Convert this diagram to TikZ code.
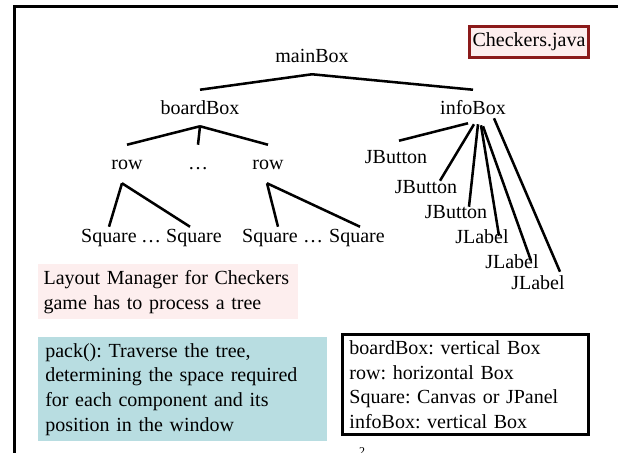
\documentclass[tikz,border=0pt]{standalone}
\usepackage{fontspec}
\setmainfont{Liberation Serif}
\usetikzlibrary{calc}
\definecolor{maroonred}{HTML}{8b1a1a}
\definecolor{palepink}{HTML}{fdeeee}
\definecolor{paleteal}{HTML}{b8dde1}

\begin{document}
\begin{tikzpicture}[x=0.75pt,y=-0.75pt,line width=1.9pt,
  every node/.style={font=\fontsize{15}{18.5}\selectfont\frenchspacing},
  branch/.style={anchor=base,inner xsep=0pt,inner ysep=7.5pt,text height=10.5pt,text depth=0pt},
  leaf/.style={anchor=base,inner sep=0pt,text height=10.5pt,text depth=0pt},
  notebox/.style={anchor=north west,align=left,inner xsep=5.25pt,inner ysep=4.5pt}]
\useasboundingbox (0,0) rectangle (618,453);
\draw[line width=2.25pt] (14,460) -- (14,7) -- (625,7);

\node[draw=maroonred,fill=palepink,inner xsep=2.5pt,inner ysep=5pt] (checkers) at (529,42) {Checkers.java};

\node[branch] (mainBox) at (312,63) {mainBox};
\node[branch] (boardBox) at (200,115) {boardBox};
\node[branch] (infoBox) at (473,115) {infoBox};
\node[branch] (rowA) at (127,170) {row};
\node[branch] (rowDots) at (198,170) {…};
\node[branch] (rowB) at (268,170) {row};

\node[leaf] (sqA) at (109,242) {Square};
\node[leaf] (sqDotsA) at (151,242) {…};
\node[leaf] (sqB) at (194,242) {Square};
\node[leaf] (sqC) at (270,242) {Square};
\node[leaf] (sqDotsB) at (313,242) {…};
\node[leaf] (sqD) at (357,242) {Square};

\node[leaf] (jbA) at (396,163) {JButton};
\node[leaf] (jbB) at (426,193) {JButton};
\node[leaf] (jbC) at (456,218) {JButton};
\node[leaf] (lbA) at (482,243) {JLabel};
\node[leaf] (lbB) at (512,268) {JLabel};
\node[leaf] (lbC) at (538,289) {JLabel};

\draw (mainBox.south) -- (boardBox.north);
\draw (mainBox.south) -- (infoBox.north);
\draw (boardBox.south) -- (rowA.north);
\draw (boardBox.south) -- (rowDots.north);
\draw (boardBox.south) -- (rowB.north);
\draw ($(rowA.south)+(-5,2)$) -- (sqA.north);
\draw ($(rowA.south)+(-5,2)$) -- ($(sqB.north)+(-4,0)$);
\draw ($(rowB.south)+(-1,2)$) -- ($(sqC.north)+(8,0)$);
\draw ($(rowB.south)+(-1,2)$) -- ($(sqD.north)+(3,0)$);

\draw ($(infoBox.south)+(-5,-3)$) -- ($(jbA.north)+(3,-7)$);
\draw ($(infoBox.south)+(1,-2)$) -- ($(jbB.north)+(14,3)$);
\draw ($(infoBox.south)+(5,-2)$) -- ($(jbC.north)+(13,4)$);
\draw ($(infoBox.south)+(8,-1)$) -- ($(lbA.north)+(17,8)$);
\draw ($(infoBox.south)+(10,0)$) -- ($(lbB.north)+(19,8)$);
\draw ($(infoBox.south)+(21,-8)$) -- ($(lbC.north)+(22,-2)$);

\node[notebox,fill=palepink,inner xsep=4pt,text width=187pt] (layoutNote) at (37,263) {Layout Manager for Checkers\\game has to process a tree};
\node[notebox,fill=paleteal,text width=206.25pt] (packNote) at (37,336) {pack(): Traverse the tree,\\determining the space required\\for each component and its\\position in the window};
\node[notebox,draw,line width=2.2pt,text width=174pt] (typeNote) at (341,333) {boardBox: vertical Box\\row: horizontal Box\\Square: Canvas or JPanel\\infoBox: vertical Box};

\node[anchor=north,inner sep=0pt,font=\fontsize{9}{9}\selectfont] (pageNo) at (362,446) {2};
\end{tikzpicture}
\end{document}
